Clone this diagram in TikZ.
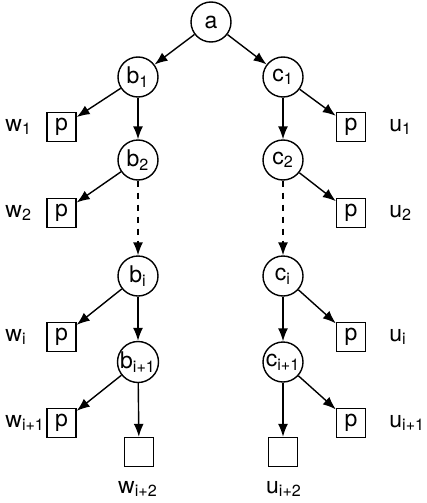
\documentclass[tikz,border=0pt]{standalone}
\usepackage{fontspec}
\setmainfont{TeX Gyre Heros}
\usetikzlibrary{arrows.meta}
\tikzset{
  vert/.style={circle,draw,line width=0.7pt,minimum size=20pt,inner sep=0pt,font=\fontsize{11.5}{13}\selectfont},
  leaf/.style={rectangle,draw,line width=0.7pt,minimum size=14.5pt,inner sep=0pt,font=\fontsize{11.5}{13}\selectfont},
  lab/.style={inner sep=0pt,font=\fontsize{11.5}{13}\selectfont},
  edge/.style={-{Latex[length=6.5pt,width=5pt]},line width=0.7pt},
}
\begin{document}
\begin{tikzpicture}[x=0.5pt,y=-0.5pt]
\useasboundingbox (0,0) rectangle (427,503);
% root
\node[vert] (a) at (211,22) {a};
% left branch
\node[vert] (b1) at (138,77) {b\textsubscript{1}};
\node[vert] (b2) at (138,160) {b\textsubscript{2}};
\node[vert] (bi) at (138,276) {b\textsubscript{i}};
\node[vert] (bii) at (138,362) {b\textsubscript{i+1}};
\node[leaf] (w1) at (61.5,127) {p};
\node[leaf] (w2) at (61.5,213) {p};
\node[leaf] (wi) at (61.5,337) {p};
\node[leaf] (wii) at (61.5,423) {p};
\node[leaf] (wiii) at (139,452) {};
% right branch
\node[vert] (c1) at (283,77) {c\textsubscript{1}};
\node[vert] (c2) at (283,160) {c\textsubscript{2}};
\node[vert] (ci) at (283,276) {c\textsubscript{i}};
\node[vert] (cii) at (283,362) {c\textsubscript{i+1}};
\node[leaf] (u1) at (351,127) {p};
\node[leaf] (u2) at (351,213) {p};
\node[leaf] (ui) at (351,337) {p};
\node[leaf] (uii) at (351,423) {p};
\node[leaf] (uiii) at (283,452) {};
% labels
\node[lab,anchor=west] (lw1) at (5,127) {w\textsubscript{1}};
\node[lab,anchor=west] (lw2) at (5,213) {w\textsubscript{2}};
\node[lab,anchor=west] (lwi) at (5,337) {w\textsubscript{i}};
\node[lab,anchor=west] (lwii) at (5,423) {w\textsubscript{i+1}};
\node[lab] (lwiii) at (138,489) {w\textsubscript{i+2}};
\node[lab,anchor=west] (lu1) at (389,127) {u\textsubscript{1}};
\node[lab,anchor=west] (lu2) at (389,213) {u\textsubscript{2}};
\node[lab,anchor=west] (lui) at (389,337) {u\textsubscript{i}};
\node[lab,anchor=west] (luii) at (389,423) {u\textsubscript{i+1}};
\node[lab] (luiii) at (284,489) {u\textsubscript{i+2}};
% edges
\draw[edge] (a) -- (b1);
\draw[edge] (a) -- (c1);
\foreach \s in {b,c} {
  \draw[edge] (\s1) -- (\s2);
  \draw[edge,dashed] (\s2) -- (\s i);
  \draw[edge] (\s i) -- (\s ii);
}
\foreach \s/\t in {b/w,c/u} {
  \draw[edge] (\s1) -- (\t1);
  \draw[edge] (\s2) -- (\t2);
  \draw[edge] (\s i) -- (\t i);
  \draw[edge] (\s ii) -- (\t ii);
  \draw[edge] (\s ii) -- (\t iii);
}
\end{tikzpicture}
\end{document}
